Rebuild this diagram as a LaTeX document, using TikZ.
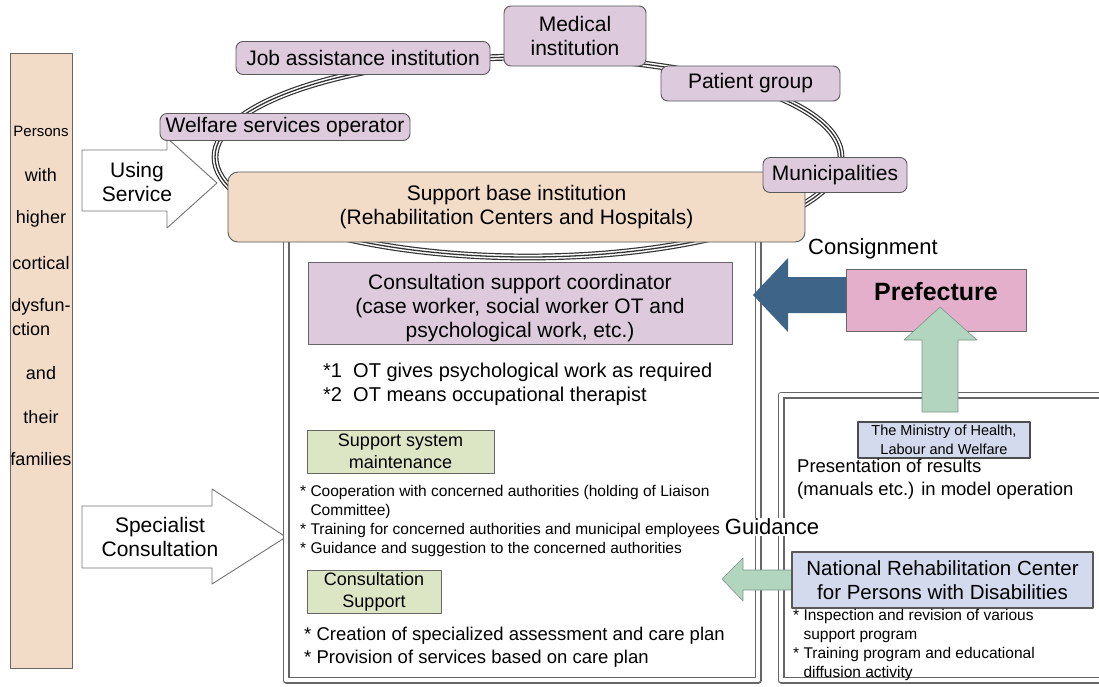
\documentclass[tikz,border=0pt]{standalone}
\usepackage{fontspec}
\setmainfont{Liberation Sans}
\usetikzlibrary{positioning}
\definecolor{peach}{HTML}{F2DCC8}
\definecolor{lav}{HTML}{DDCADD}
\definecolor{sage}{HTML}{DCE6C5}
\definecolor{rosy}{HTML}{E3AFCB}
\definecolor{consblue}{HTML}{3E6587}
\definecolor{mint}{HTML}{B2D5BF}
\definecolor{periw}{HTML}{D4DAEE}
\newcommand\fL{\fontsize{21}{24}\selectfont}
\newcommand\fM{\fontsize{18.5}{23}\selectfont}
\newcommand\fS{\fontsize{15.5}{19}\selectfont}
\begin{document}
\begin{tikzpicture}[x=1pt,y=-1pt,line join=round]
  \tikzset{
    ringbox/.style={draw=black!65,fill=lav,rounded corners=7pt,line width=0.9pt,inner sep=0pt,align=center,font=\fL},
    flatbox/.style={draw=black!60,line width=0.9pt,inner sep=0pt,align=center},
    ringline/.style={draw=black!80,line width=6.8pt,postaction={draw=white,line width=4.4pt},postaction={draw=black!80,line width=1.3pt}},
    frameline/.style={draw=black!60,line width=1.2pt,double=white,double distance=4.6pt},
    hollow arrow/.style={draw=black!55,fill=white,line width=0.9pt},
    notetext/.style={align=left,inner sep=0pt,anchor=north west}
  }
  \useasboundingbox (0,0) rectangle (1099,686);
  % persons column
  \node[flatbox,fill=peach,minimum width=62pt,minimum height=615pt,anchor=north west] (persons) at (10,53) {};
  \node[font=\fontsize{15}{18}\selectfont] (w1) at (41,131) {Persons};
  \foreach \yy/\ww [count=\i from 2] in {175/with,219/higher,263/cortical,307/dysfun-,373/and,417/their,459/families}
    \node[font=\fontsize{18}{20}\selectfont] (w\i) at (41,\yy) {\ww};
  \node[font=\fontsize{18}{20}\selectfont,anchor=west,inner sep=0pt] (wct) at (12,329) {ction};
  % hollow arrows
  \draw[hollow arrow] (82,150) -- (167,150) -- (167,138) -- (217,183) -- (167,228) -- (167,211) -- (82,211) -- cycle;
  \node[align=center,font=\fL] (using) at (137,182) {Using\\Service};
  \draw[hollow arrow] (82,506) -- (212,506) -- (212,489) -- (286,537) -- (212,584) -- (212,568) -- (82,568) -- cycle;
  \node[align=center,font=\fL] (specialist) at (160,537) {Specialist\\Consultation};
  % frames
  \draw[frameline] (286,236) -- (286,680) -- (758,680) -- (758,236);
  \draw[frameline] (1099,395) -- (781,395) -- (781,680) -- (1099,680);
  % ring
  \coordinate (ringc) at (528,157);
  \draw[ringline] (ringc) ellipse [x radius=313pt, y radius=100pt];
  \node[ringbox,minimum width=254pt,minimum height=33pt] (jobassist) at (363,58) {Job assistance institution};
  \node[ringbox,minimum width=142pt,minimum height=60pt] (medical) at (575,36) {Medical\\institution};
  \node[ringbox,minimum width=179pt,minimum height=35pt] (patient) at (750.5,83.5) {Patient group};
  \node[ringbox,minimum width=250pt,minimum height=27pt] (welfare) at (285,127) {Welfare services operator};
  \node[ringbox,fill=peach,rounded corners=10pt,minimum width=577pt,minimum height=70pt] (base) at (516.5,207) {Support base institution\\(Rehabilitation Centers and Hospitals)};
  \node[ringbox,minimum width=144pt,minimum height=35pt] (municip) at (835,175) {Municipalities};
  % inside the frame
  \node[flatbox,fill=lav,minimum width=424pt,minimum height=82pt] (coord) at (520,303) {};
  \node[align=center,font=\fL] (coordlbl) at ([yshift=-5pt]coord.center) {Consultation support coordinator\\(case worker, social worker OT and\\psychological work, etc.)};
  \node[notetext,font=\fontsize{20}{24}\selectfont] (otnotes) at (323,363) {*1\ \ OT gives psychological work as required\\*2\ \ OT means occupational therapist};
  \node[flatbox,fill=sage,minimum width=187pt,minimum height=43pt,font=\fontsize{18}{22}\selectfont] (sysmaint) at (400.5,451.5) {Support system\\maintenance};
  \node[notetext,font=\fS] (maintnotes) at (300,485) {* Cooperation with concerned authorities (holding of Liaison\\\hphantom{* }Committee)\\* Training for concerned authorities and municipal employees\\* Guidance and suggestion to the concerned authorities};
  \node[flatbox,fill=sage,minimum width=134pt,minimum height=43pt,font=\fontsize{18}{22}\selectfont] (cssupport) at (374,591.5) {Consultation\\Support};
  \node[notetext,font=\fM] (plans) at (304,627) {* Creation of specialized assessment and care plan\\* Provision of services based on care plan};
  % prefecture side
  \node[font=\fontsize{22}{24}\selectfont] (consign) at (873,249) {Consignment};
  \node[flatbox,fill=rosy,minimum width=180pt,minimum height=62pt] (pref) at (936,300) {};
  \node[font=\bfseries\fontsize{25}{28}\selectfont] (preflbl) at ([yshift=8pt]pref.center) {Prefecture};
  \fill[consblue] (846,277) -- (788,277) -- (788,258) -- (753,295) -- (788,332) -- (788,313) -- (846,313) -- cycle;
  \filldraw[fill=mint,draw=mint!70!black,line width=0.6pt] (922,412) -- (922,340) -- (904,340) -- (940,307) -- (977,340) -- (958,340) -- (958,412) -- cycle;
  \node[flatbox,fill=periw,draw=black!70,line width=1.8pt,minimum width=172pt,minimum height=36pt,font=\fontsize{14.5}{19}\selectfont] (mhlw) at (944,440) {The Ministry of Health,\\Labour and Welfare};
  \node[notetext,font=\fM] (results) at (797,459) {Presentation of results\\(manuals etc.) in model operation};
  \node[fill=white,inner sep=1pt,font=\fontsize{22}{24}\selectfont] (guide) at (772,527) {Guidance};
  \filldraw[fill=mint,draw=mint!70!black,line width=0.6pt] (792,570) -- (743,570) -- (743,558) -- (722,579) -- (743,601) -- (743,590) -- (792,590) -- cycle;
  \node[flatbox,fill=periw,draw=black!65,line width=1.3pt,minimum width=301pt,minimum height=56pt,font=\fontsize{20.5}{24}\selectfont] (nrc) at (942.5,580) {National Rehabilitation Center\\for Persons with Disabilities};
  \node[notetext,font=\fS] (nrcnotes) at (793,609) {* Inspection and revision of various\\\hphantom{* }support program\\* Training program and educational\\\hphantom{* }diffusion activity};
\end{tikzpicture}
\end{document}
